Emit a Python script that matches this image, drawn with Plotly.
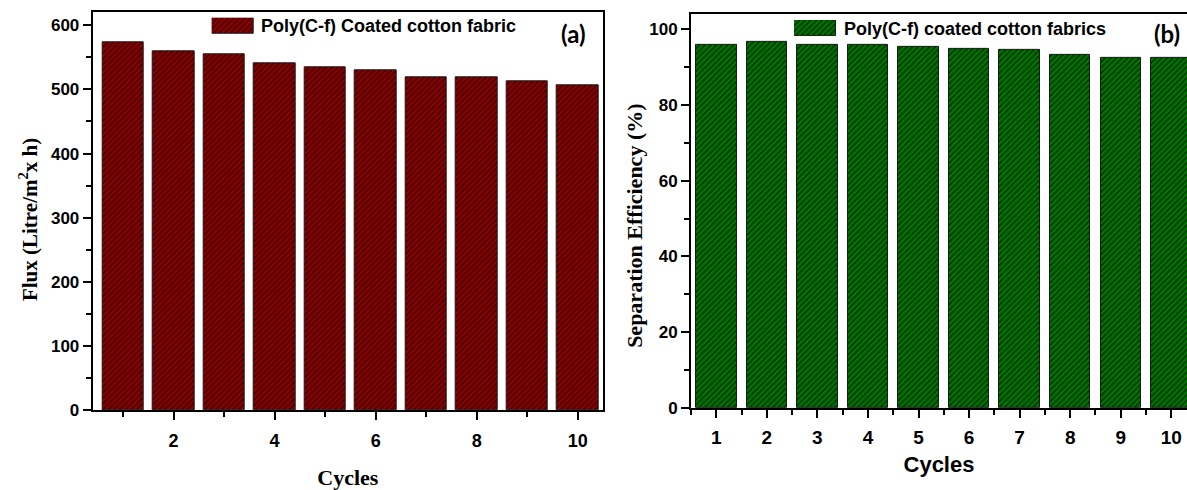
import plotly.graph_objects as go

# Reusability test: flux and oil/water separation efficiency over 10 cycles
cycles = [1, 2, 3, 4, 5, 6, 7, 8, 9, 10]
flux = [574, 560, 554, 541, 535, 530, 518, 518, 512, 506]
efficiency = [95.8, 96.5, 95.8, 95.8, 95.4, 94.9, 94.6, 93.2, 92.4, 92.4]

flux_label = "Poly(C-f) Coated cotton fabric"
eff_label = "Poly(C-f) coated cotton fabrics"

RED = "#990000"
GREEN = "#008000"
W, H = 1187, 490


def px_x(p):
    return p / W


def px_y(p):
    return 1 - p / H


def hatch(bg):
    return dict(
        color=bg,
        line=dict(color="#1a1a1a", width=1),
        pattern=dict(shape="/", size=4, solidity=0.55, fgcolor="black", bgcolor=bg),
    )


fig = go.Figure()

# Panel (a): flux
fig.add_trace(go.Bar(x=cycles, y=flux, width=0.82, marker=hatch(RED),
                     xaxis="x", yaxis="y", showlegend=False))
# Panel (b): separation efficiency
fig.add_trace(go.Bar(x=cycles, y=efficiency, width=0.8, marker=hatch(GREEN),
                     xaxis="x2", yaxis="y2", showlegend=False))
# Legend keys drawn as single hatched swatches on small inset axes
fig.add_trace(go.Bar(x=[0], y=[1], width=1, marker=hatch(RED),
                     xaxis="x3", yaxis="y3", showlegend=False, hoverinfo="skip"))
fig.add_trace(go.Bar(x=[0], y=[1], width=1, marker=hatch(GREEN),
                     xaxis="x4", yaxis="y4", showlegend=False, hoverinfo="skip"))

tick_font = dict(family="Liberation Sans, Arial", size=17, color="black", weight="bold")
xtick_font = dict(family="Liberation Sans, Arial", size=18, color="black", weight="bold")
serif_title = dict(family="Liberation Serif, Times New Roman", color="black", weight="bold")

axis_common = dict(
    showgrid=False, zeroline=False, showline=True, linecolor="black", linewidth=2,
    ticks="outside", ticklen=8, tickwidth=2, tickcolor="black",
)
minor_common = dict(ticks="outside", ticklen=5, tickwidth=2, tickcolor="black", showgrid=False)

inset = dict(visible=False, fixedrange=True)

fig.update_layout(
    width=W, height=H,
    margin=dict(l=0, r=0, t=0, b=0),
    paper_bgcolor="white", plot_bgcolor="white",
    bargap=0,
    xaxis=dict(
        **axis_common, domain=[px_x(92.7), px_x(603)], range=[0.4, 10.5],
        tickvals=[2, 4, 6, 8, 10], tickfont=xtick_font, mirror=True,
        ticklabelstandoff=5,
        minor=dict(**minor_common, tickvals=[1, 3, 5, 7, 9]),
        title=dict(text="Cycles", standoff=24, font=dict(serif_title, size=22)),
    ),
    yaxis=dict(
        **axis_common, domain=[px_y(423.3), px_y(12.7)], range=[0, 620],
        tickvals=[0, 100, 200, 300, 400, 500, 600], tickfont=tick_font, mirror=True,
        minor=dict(**minor_common, tickvals=[50, 150, 250, 350, 450, 550]),
    ),
    xaxis2=dict(
        **axis_common, domain=[px_x(691), 1.0], range=[0.5, 10.31], anchor="y2",
        tickvals=cycles, tickfont=dict(xtick_font, size=19), mirror=True,
        ticklabelstandoff=3,
        minor=dict(**minor_common, dtick=0.5, tick0=0.5),
        title=dict(text="Cycles", standoff=10,
                   font=dict(family="Liberation Sans, Arial", size=22,
                             color="black", weight="bold")),
    ),
    yaxis2=dict(
        **axis_common, domain=[px_y(421), px_y(14.3)], range=[0, 104], anchor="x2",
        tickvals=[0, 20, 40, 60, 80, 100], tickfont=tick_font, mirror=False,
        minor=dict(**minor_common, tickvals=[10, 30, 50, 70, 90]),
    ),
    xaxis3=dict(**inset, domain=[px_x(211.7), px_x(254)], range=[-0.5, 0.5], anchor="y3"),
    yaxis3=dict(**inset, domain=[px_y(35), px_y(18.3)], range=[0, 1], anchor="x3"),
    xaxis4=dict(**inset, domain=[px_x(794), px_x(836)], range=[-0.5, 0.5], anchor="y4"),
    yaxis4=dict(**inset, domain=[px_y(37.3), px_y(20.7)], range=[0, 1], anchor="x4"),
)

label_font = dict(family="Liberation Sans, Arial", size=18, color="black", weight="bold")
panel_font = dict(family="Lato, Open Sans", size=24, color="black", weight="bold")

# Vertical axis titles
fig.add_annotation(text="Flux (Litre/m<sup>2</sup>x h)", xref="paper", yref="paper",
                   x=px_x(28), y=px_y(227), xanchor="center", yanchor="middle",
                   textangle=-90, showarrow=False, font=dict(serif_title, size=21))
fig.add_annotation(text="Separation Efficiency (%)", xref="paper", yref="paper",
                   x=px_x(635), y=px_y(233), xanchor="center", yanchor="middle",
                   textangle=-90, showarrow=False, font=dict(serif_title, size=22))

# Legend labels and panel tags
fig.add_annotation(text=flux_label, xref="paper", yref="paper",
                   x=px_x(259), y=px_y(27), xanchor="left", yanchor="middle",
                   showarrow=False, font=label_font)
fig.add_annotation(text=eff_label, xref="paper", yref="paper",
                   x=px_x(842), y=px_y(29.5), xanchor="left", yanchor="middle",
                   showarrow=False, font=label_font)
fig.add_annotation(text="(a)", xref="paper", yref="paper",
                   x=px_x(573), y=px_y(35), xanchor="center", yanchor="middle",
                   showarrow=False, font=panel_font)
fig.add_annotation(text="(b)", xref="paper", yref="paper",
                   x=px_x(1167), y=px_y(35), xanchor="center", yanchor="middle",
                   showarrow=False, font=panel_font)

fig.write_html("out.html")
